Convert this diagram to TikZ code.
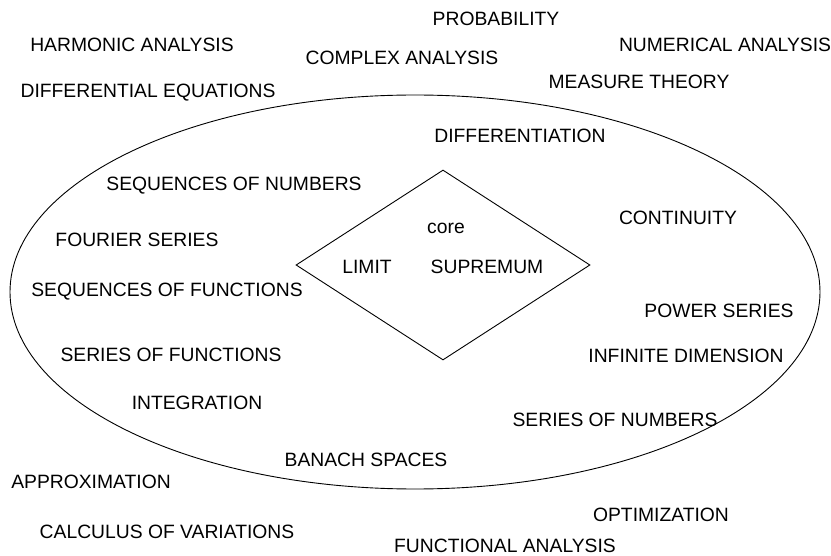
\documentclass[tikz,border=0pt]{standalone}
\usepackage{fontspec}
\setmainfont{Liberation Sans}
\usepackage{tikz}
\usetikzlibrary{shapes.geometric}

\begin{document}
\begin{tikzpicture}[
  x=1pt, y=-1pt,
  font=\fontsize{19.3}{23}\selectfont,
  topic/.style={inner sep=0pt},
  outline/.style={draw, line width=0.9pt, inner sep=0pt}]
\useasboundingbox (0,0) rectangle (831,556);
% the field and its core
\node[outline, ellipse, minimum width=810pt, minimum height=394pt] (field) at (415,292) {};
\node[outline, diamond, minimum width=294pt, minimum height=190pt] (core) at (443,265) {};
\node[topic] (corelab) at (446,228) {core};
\node[topic] (limit) at (367,267) {LIMIT};
\node[topic] (sup) at (487,267) {SUPREMUM};
% inside the ellipse
\node[topic] (diff) at (520,136) {DIFFERENTIATION};
\node[topic] (seqnum) at (234,186) {SEQUENCES OF NUMBERS};
\node[topic] (cont) at (678,218) {CONTINUITY};
\node[topic] (fourier) at (137,240) {FOURIER SERIES};
\node[topic] (seqfun) at (167,292) {SEQUENCES OF FUNCTIONS};
\node[topic] (power) at (719,311) {POWER SERIES};
\node[topic] (serfun) at (171,355) {SERIES OF FUNCTIONS};
\node[topic] (infdim) at (686,356) {INFINITE DIMENSION};
\node[topic] (integ) at (197,403) {INTEGRATION};
\node[topic] (sernum) at (615,420) {SERIES OF NUMBERS};
\node[topic] (banach) at (366,460) {BANACH SPACES};
% outside
\node[topic] (prob) at (496,19) {PROBABILITY};
\node[topic] (harm) at (132,45) {HARMONIC ANALYSIS};
\node[topic] (numer) at (725,45) {NUMERICAL ANALYSIS};
\node[topic] (cplx) at (402,58) {COMPLEX ANALYSIS};
\node[topic] (measure) at (639,82) {MEASURE THEORY};
\node[topic] (diffeq) at (148,93) {DIFFERENTIAL EQUATIONS};
\node[topic] (approx) at (91,482) {APPROXIMATION};
\node[topic] (optim) at (661,515) {OPTIMIZATION};
\node[topic] (calcvar) at (167,532) {CALCULUS OF VARIATIONS};
\node[topic] (funcan) at (505,546) {FUNCTIONAL ANALYSIS};
\end{tikzpicture}
\end{document}
